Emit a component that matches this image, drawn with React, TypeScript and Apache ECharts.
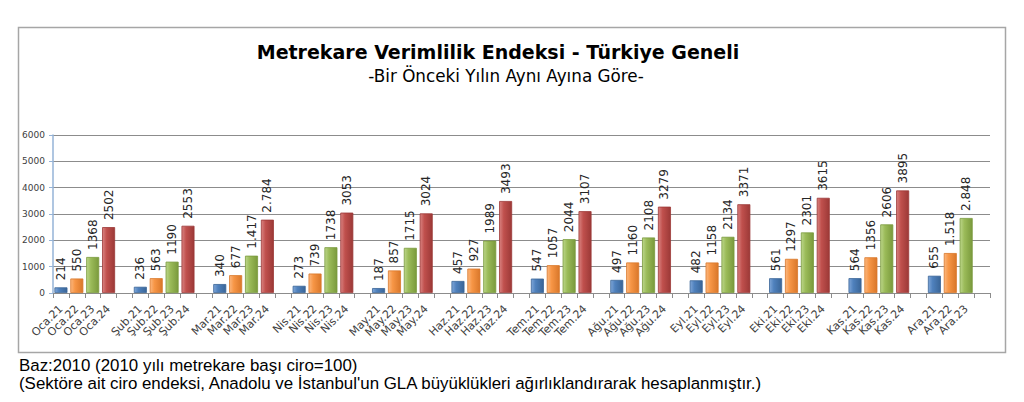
import React, { useEffect, useRef } from "react";
import * as echarts from "echarts";

const months = ["Oca", "Şub", "Mar", "Nis", "May", "Haz", "Tem", "Ağu", "Eyl", "Eki", "Kas", "Ara"];
const years = ["21", "22", "23", "24"];
const values21 = [214, 236, 340, 273, 187, 457, 547, 497, 482, 561, 564, 655];
const values22 = [550, 563, 677, 739, 857, 927, 1057, 1160, 1158, 1297, 1356, 1518];
const values23 = [1368, 1190, 1417, 1738, 1715, 1989, 2044, 2108, 2134, 2301, 2606, 2848];
const values24 = [2502, 2553, 2784, 3053, 3024, 3493, 3107, 3279, 3371, 3615, 3895, null];
const dottedLabels = ["Mar.23", "Mar.24", "Ara.22", "Ara.23"];
const yMin = 0;
const yMax = 6000;
const yInterval = 1000;

const titleText = "Metrekare Verimlilik Endeksi - Türkiye Geneli";
const subtitleText = "-Bir Önceki Yılın Aynı Ayına Göre-";
const footer1 = "Baz:2010 (2010 yılı metrekare başı ciro=100)";
const footer2 = "(Sektöre ait ciro endeksi, Anadolu ve İstanbul'un GLA büyüklükleri ağırlıklandırarak hesaplanmıştır.)";

const yearValues = [values21, values22, values23, values24];
const yearColors = [
  ["#7fa6d8", "#4F81BD", "#3a6597"],
  ["#fbb77f", "#F79646", "#d9772a"],
  ["#bcd68a", "#9BBB59", "#7a9a3c"],
  ["#d98381", "#C0504D", "#9c3937"],
];

export default function App() {
  const ref = useRef<HTMLDivElement>(null);
  useEffect(() => {
    document.body.style.margin = "0";
    const chart = echarts.init(ref.current!, null, { renderer: "svg" });

    const categories: string[] = [];
    const seriesData: (number | null)[][] = years.map(() => []);
    months.forEach((m, mi) => {
      years.forEach((y, yi) => {
        const v = yearValues[yi][mi];
        categories.push(v == null ? `gap${mi}_${yi}` : `${m}.${y}`);
        years.forEach((_, si) => seriesData[si].push(si === yi ? v : null));
      });
      if (mi < months.length - 1) {
        categories.push(`gap${mi}`);
        years.forEach((_, si) => seriesData[si].push(null));
      }
    });

    const fmt = (p: any) => {
      if (p.value == null) return "";
      const name = categories[p.dataIndex];
      const v = p.value as number;
      if (dottedLabels.includes(name)) {
        return `${Math.floor(v / 1000)}.${String(v % 1000).padStart(3, "0")}`;
      }
      return String(v);
    };

    chart.setOption({
      animation: false,
      textStyle: { fontFamily: "DejaVu Sans" },
      graphic: [
        {
          type: "rect",
          shape: { x: 18.5, y: 27.5, width: 987, height: 325 },
          style: { fill: "none", stroke: "#a6a6a6", lineWidth: 1.5 },
          z: -1,
        },
        {
          type: "text",
          x: 498,
          y: 52,
          style: {
            text: titleText,
            font: "bold 19px 'DejaVu Sans'",
            fill: "#000",
            align: "center",
            verticalAlign: "middle",
          },
        },
        {
          type: "text",
          x: 506,
          y: 76,
          style: {
            text: subtitleText,
            font: "16.8px 'DejaVu Sans'",
            fill: "#000",
            align: "center",
            verticalAlign: "middle",
          },
        },
        {
          type: "text",
          x: 19,
          y: 365,
          style: {
            text: footer1,
            font: "16.9px 'Liberation Sans'",
            fill: "#000",
            verticalAlign: "middle",
          },
        },
        {
          type: "text",
          x: 19,
          y: 383,
          style: {
            text: footer2,
            font: "16.9px 'Liberation Sans'",
            fill: "#000",
            verticalAlign: "middle",
          },
        },
      ],
      grid: { left: 53, right: 34, top: 135, bottom: 109, containLabel: false },
      xAxis: {
        type: "category",
        data: categories,
        axisLine: { show: true, lineStyle: { color: "#8c8c8c", width: 1 } },
        axisTick: { show: true, interval: 0, length: 5, lineStyle: { color: "#8c8c8c" } },
        axisLabel: {
          interval: 0,
          rotate: 45,
          fontSize: 11,
          color: "#404040",
          margin: 14,
          formatter: (v: string) => (v.startsWith("gap") ? "" : v),
        },
      },
      yAxis: {
        type: "value",
        min: yMin,
        max: yMax,
        interval: yInterval,
        axisLine: { show: true, lineStyle: { color: "#95b3d7", width: 1.5 } },
        axisTick: { show: true, length: 4, lineStyle: { color: "#95b3d7" } },
        axisLabel: { fontSize: 9, color: "#404040", margin: 8, formatter: (v: number) => String(v) },
        splitLine: { lineStyle: { color: "#8c8c8c", width: 1 } },
      },
      series: years.map((y, si) => ({
        name: `20${y}`,
        type: "bar",
        data: seriesData[si],
        barGap: "-100%",
        barWidth: 13,
        itemStyle: {
          color: new echarts.graphic.LinearGradient(0, 0, 1, 0, [
            { offset: 0, color: yearColors[si][0] },
            { offset: 0.35, color: yearColors[si][1] },
            { offset: 1, color: yearColors[si][2] },
          ]),
          borderColor: yearColors[si][2],
          borderWidth: 0.8,
        },
        label: {
          show: true,
          position: "top",
          rotate: 90,
          align: "left",
          verticalAlign: "middle",
          distance: 7,
          fontSize: 12,
          color: "#262626",
          formatter: fmt,
        },
      })),
    });
    return () => chart.dispose();
  }, []);
  return <div ref={ref} style={{ width: 1024, height: 402 }} />;
}
